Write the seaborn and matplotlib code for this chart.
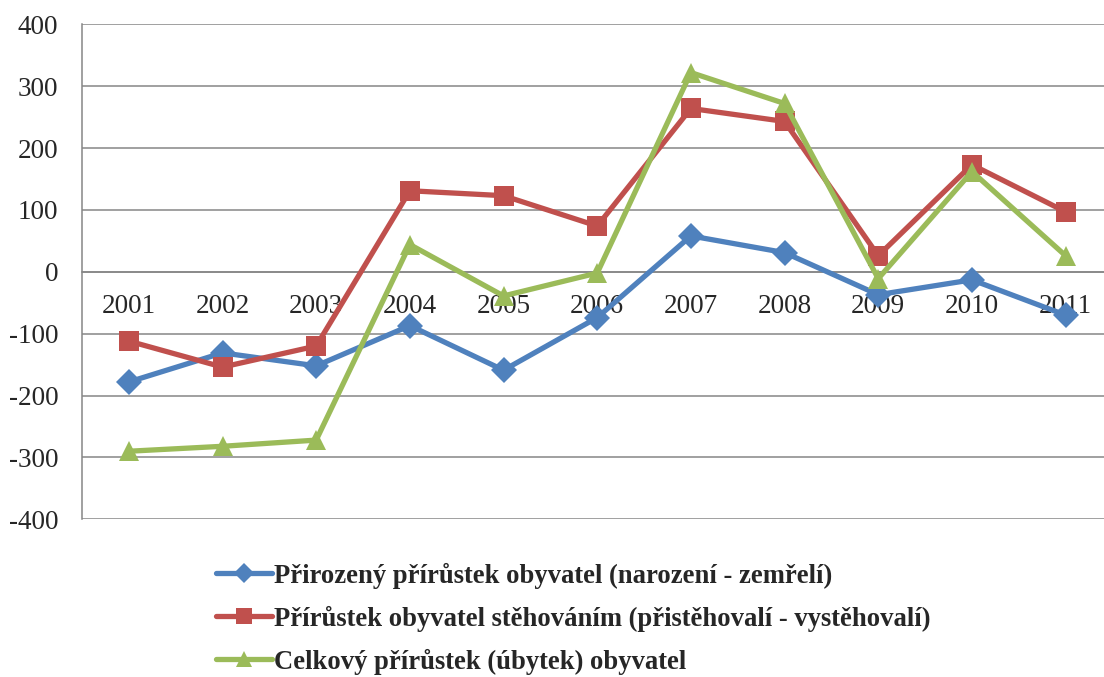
import pandas as pd
import numpy as np
import matplotlib.pyplot as plt
import seaborn as sns
from matplotlib.lines import Line2D

# -------- data --------
years = ["2001", "2002", "2003", "2004", "2005", "2006",
         "2007", "2008", "2009", "2010", "2011"]
prirozeny = [-178, -131, -152, -87, -159, -74, 58, 31, -37, -13, -70]
stehovani = [-112, -154, -120, 131, 123, 74, 264, 243, 26, 173, 97]
celkovy = [-290, -282, -272, 44, -39, -2, 322, 272, -11, 162, 26]

series_names = [
    "Přirozený přírůstek obyvatel (narození - zemřelí)",
    "Přírůstek obyvatel stěhováním (přistěhovalí - vystěhovalí)",
    "Celkový přírůstek (úbytek) obyvatel",
]
colors = ["#4F81BD", "#C0504D", "#9BBB59"]
markers = ["D", "s", "^"]
marker_sizes = [13, 14, 15]

# long table for seaborn
pos = np.arange(len(years))
df = pd.concat([
    pd.DataFrame({"pos": pos, "value": vals, "series": name})
    for vals, name in zip([prirozeny, stehovani, celkovy], series_names)
])

# -------- style --------
sns.set_style("white")
plt.rcParams["font.family"] = ["Liberation Serif", "DejaVu Serif"]
plt.rcParams["axes.unicode_minus"] = False
grid_col = "#868686"

fig = plt.figure(figsize=(11.04, 6.77), dpi=100)
ax = fig.add_axes([82 / 1104, 1 - 519.3 / 677, 1 - 82 / 1104, (519.3 - 24.3) / 677])

for name, col, mk, ms in zip(series_names, colors, markers, marker_sizes):
    sns.lineplot(data=df[df["series"] == name], x="pos", y="value",
                 color=col, marker=mk, markersize=ms, markeredgewidth=0,
                 linewidth=3.8, ax=ax, legend=False, zorder=3)

# axes and grid
ax.set_ylim(-400, 400)
ax.set_xlim(-0.5, 10.41)
ax.set_yticks(np.arange(-400, 401, 100))
ax.yaxis.grid(True, color=grid_col, linewidth=1.1)
ax.set_axisbelow(True)
for s in ["top", "right"]:
    ax.spines[s].set_visible(False)
ax.spines["left"].set_color(grid_col)
ax.spines["bottom"].set_color(grid_col)
ax.spines["left"].set_linewidth(1.1)
ax.spines["bottom"].set_linewidth(1.1)
ax.spines["bottom"].set_position(("data", 0))

ax.tick_params(axis="y", direction="out", length=8, width=1.1, color=grid_col,
               labelsize=19.5, pad=9)
ax.set_xticks(np.arange(-0.5, 10.5, 1))
ax.set_xticklabels([])
ax.set_xticks(pos, minor=True)
ax.set_xticklabels(years, minor=True)
ax.tick_params(axis="x", which="major", direction="out", length=8, width=1.1,
               color=grid_col)
ax.tick_params(axis="x", which="minor", length=0, labelsize=19.5, pad=16)
ax.set_xlabel("")
ax.set_ylabel("")

# legend
handles = [Line2D([0], [0], color=c, marker=m, markersize=ms * 0.8,
                  markeredgewidth=0, linewidth=3.8)
           for c, m, ms in zip(colors, markers, marker_sizes)]
fig.legend(handles, series_names, loc="upper left",
           bbox_to_anchor=(205 / 1104, 1 - 552 / 677), frameon=False,
           prop={"weight": "bold", "size": 19.2}, handlelength=2.1,
           handletextpad=0.1, labelspacing=0.63, borderaxespad=0)

fig.savefig("out.png", dpi=100)
